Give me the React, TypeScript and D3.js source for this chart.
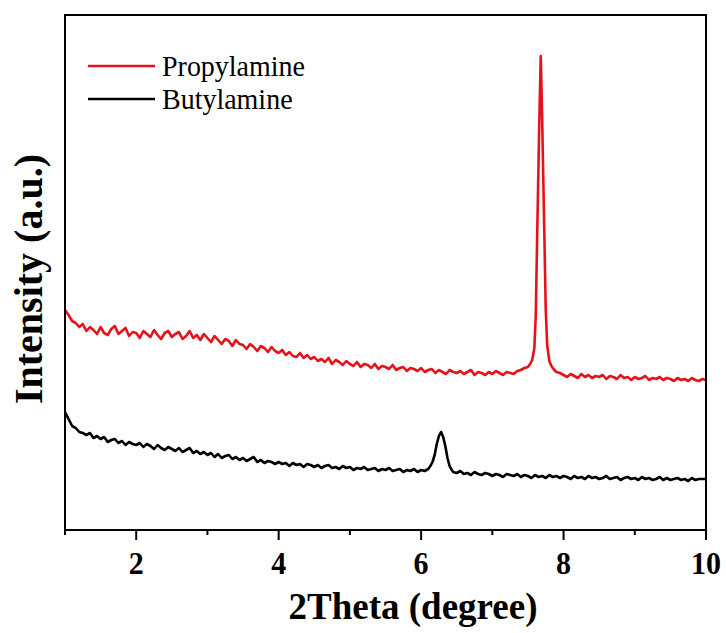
import React from "react";
import * as d3 from "d3";

// ---- data (2Theta in degree, intensity in a.u.) ----
const THETA_STEP = 0.05;

// Propylamine: low-angle part, 2θ = 1.00 .. 7.45
const propLowStart = 1.0;
const propLow = [
  220, 215, 209, 207, 203, 206, 199, 203, 200, 196,
  203, 197, 195, 201, 204, 196, 199, 202, 194, 198,
  197, 192, 199, 196, 193, 200, 195, 191, 197, 199,
  193, 196, 198, 191, 194, 199, 192, 195, 190, 196,
  192, 188, 194, 190, 186, 191, 189, 184, 190, 186,
  185, 181, 186, 183, 179, 184, 182, 178, 183, 179,
  177, 180, 175, 178, 174, 173, 177, 172, 175, 171,
  173, 169, 171, 168, 172, 166, 170, 168, 165, 169,
  166, 164, 168, 163, 166, 165, 162, 166, 161, 164,
  163, 161, 165, 160, 162, 163, 159, 162, 161, 159,
  162, 158, 160, 161, 157, 160, 158, 156, 160, 158,
  157, 159, 156, 158, 160, 155, 158, 157, 155, 158,
  156, 159, 157, 155, 158, 157, 156, 159, 160, 162,
];
// Propylamine: peak region
const propPeakTheta = [7.5, 7.53, 7.56, 7.59, 7.61, 7.635, 7.66, 7.68, 7.7, 7.725, 7.75, 7.77, 7.8, 7.83, 7.87, 7.9, 7.95];
const propPeakI = [163, 166, 170, 182, 215, 315, 410, 474, 410, 315, 220, 185, 169, 164, 160, 158, 157];
// Propylamine: high-angle part, 2θ = 8.00 .. 10.00
const propHighStart = 8.0;
const propHigh = [
  155, 153, 156, 154, 152, 156, 153, 155, 152, 154,
  153, 155, 151, 154, 153, 151, 155, 152, 153, 150,
  153, 151, 152, 154, 150, 152, 151, 153, 150, 152,
  151, 149, 152, 150, 151, 149, 152, 150, 149, 151,
  150,
];

// Butylamine: low-angle part, 2θ = 1.00 .. 6.10
const butLowStart = 1.0;
const butLow = [
  118, 111, 104, 102, 98, 97, 95, 97, 92, 94,
  91, 93, 88, 90, 91, 87, 89, 85, 88, 86,
  85, 87, 83, 86, 84, 81, 85, 82, 80, 83,
  81, 79, 82, 78, 80, 82, 77, 79, 76, 78,
  75, 77, 73, 76, 72, 74, 75, 71, 73, 70,
  72, 69, 71, 73, 68, 70, 67, 69, 68, 66,
  68, 66, 67, 64, 67, 65, 66, 63, 66, 65,
  63, 65, 62, 64, 65, 62, 63, 61, 64, 62,
  63, 60, 62, 61, 63, 60, 61, 62, 59, 61,
  60, 62, 59, 60, 61, 58, 60, 59, 61, 58,
  60, 59, 61,
];
// Butylamine: peak region
const butPeakTheta = [6.13, 6.16, 6.19, 6.22, 6.25, 6.28, 6.31, 6.34, 6.37, 6.4, 6.43];
const butPeakI = [64, 68, 75, 86, 94, 98, 93, 84, 72, 64, 60];
// Butylamine: high-angle part, 2θ = 6.45 .. 10.00
const butHighStart = 6.45;
const butHigh = [
  58, 57, 59, 56, 57, 55, 58, 56, 55, 57,
  56, 54, 56, 55, 53, 56, 55, 54, 56, 53,
  55, 54, 52, 55, 53, 54, 52, 55, 53, 54,
  52, 54, 53, 51, 54, 52, 53, 51, 54, 52,
  53, 51, 52, 54, 51, 52, 53, 50, 52, 53,
  51, 52, 50, 53, 51, 52, 50, 51, 53, 50,
  52, 50, 51, 52, 50, 51, 49, 52, 50, 51,
  51, 51,
];

const seriesNames = ["Propylamine", "Butylamine"];
const seriesColors = ["#e6121a", "#000000"];
const xTickMajor = [2, 4, 6, 8, 10];
const xTickMinor = [1, 3, 5, 7, 9];
const xDomain = [1, 10];
const yDomain = [0, 515];

type Pt = [number, number];

function gridPoints(start: number, values: number[]): Pt[] {
  return values.map((v, i) => [start + i * THETA_STEP, v] as Pt);
}
function pairPoints(theta: number[], vals: number[]): Pt[] {
  return theta.map((t, i) => [t, vals[i]] as Pt);
}

const propData: Pt[] = [
  ...gridPoints(propLowStart, propLow),
  ...pairPoints(propPeakTheta, propPeakI),
  ...gridPoints(propHighStart, propHigh),
];
const butData: Pt[] = [
  ...gridPoints(butLowStart, butLow),
  ...pairPoints(butPeakTheta, butPeakI),
  ...gridPoints(butHighStart, butHigh),
];

const W = 726;
const H = 633;
const L = 65;
const R = 706;
const T = 15;
const B = 530;
const FONT = "'Liberation Serif', serif";

export default function App() {
  const x = d3.scaleLinear().domain(xDomain).range([L, R]);
  const y = d3.scaleLinear().domain(yDomain).range([B, T]);
  const line = d3
    .line<Pt>()
    .x((d) => x(d[0]))
    .y((d) => y(d[1]));

  const datasets = [propData, butData];

  return (
    <svg
      width={W}
      height={H}
      style={{ position: "absolute", left: 0, top: 0, background: "#fff" }}
    >
      <rect x={0} y={0} width={W} height={H} fill="#fff" />
      <defs>
        <clipPath id="plot">
          <rect x={L} y={T} width={R - L} height={B - T} />
        </clipPath>
      </defs>
      <g clipPath="url(#plot)">
        {datasets.map((d, i) => (
          <path
            key={i}
            d={line(d) || ""}
            fill="none"
            stroke={seriesColors[i]}
            strokeWidth={2.6}
            strokeLinejoin="round"
          />
        ))}
      </g>
      {/* frame */}
      <rect x={L} y={T} width={R - L} height={B - T} fill="none" stroke="#000" strokeWidth={2} />
      {/* x ticks */}
      {xTickMajor.map((t) => (
        <line key={"M" + t} x1={x(t)} x2={x(t)} y1={B} y2={B + 10} stroke="#000" strokeWidth={2} />
      ))}
      {xTickMinor.map((t) => (
        <line key={"m" + t} x1={x(t)} x2={x(t)} y1={B} y2={B + 5} stroke="#000" strokeWidth={2} />
      ))}
      {xTickMajor.map((t) => (
        <text
          key={"l" + t}
          transform={`translate(${x(t)}, 574) scale(1, 1.08)`}
          textAnchor="middle"
          fontFamily={FONT}
          fontWeight="bold"
          fontSize={30}
          fill="#000"
        >
          {t}
        </text>
      ))}
      {/* axis titles */}
      <text
        transform="translate(413, 619) scale(1, 1.05)"
        textAnchor="middle"
        fontFamily={FONT}
        fontWeight="bold"
        fontSize={37}
        fill="#000"
      >
        2Theta (degree)
      </text>
      <text
        transform={`translate(42, 279) rotate(-90)`}
        textAnchor="middle"
        fontFamily={FONT}
        fontWeight="bold"
        fontSize={40}
        fill="#000"
      >
        Intensity (a.u.)
      </text>
      {/* legend */}
      {seriesNames.map((n, i) => (
        <g key={n}>
          <line
            x1={88}
            x2={155}
            y1={66 + i * 33}
            y2={66 + i * 33}
            stroke={seriesColors[i]}
            strokeWidth={2.5}
          />
          <text
            transform={`translate(162, ${76 + i * 33}) scale(1, 1.05)`}
            fontFamily={FONT}
            fontSize={28}
            fill="#000"
          >
            {n}
          </text>
        </g>
      ))}
    </svg>
  );
}
